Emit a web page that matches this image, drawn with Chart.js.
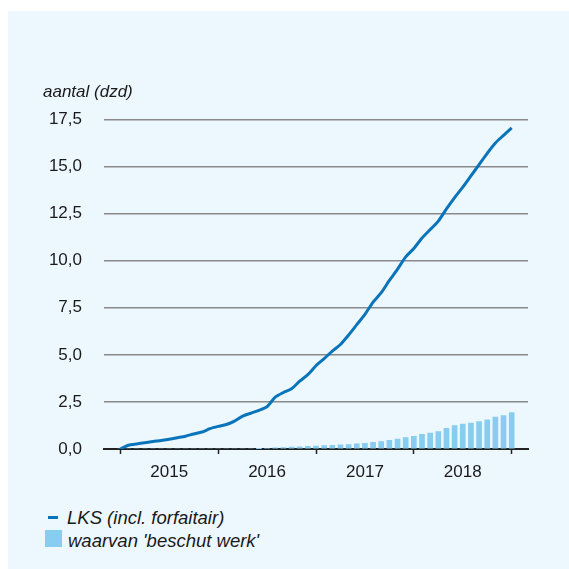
<!DOCTYPE html>
<html>
<head>
<meta charset="utf-8">
<script src="https://cdn.jsdelivr.net/npm/chart.js@4"></script>
<style>
  html, body { margin: 0; padding: 0; background: #ffffff; }
  #panel { position: absolute; left: 8px; top: 11px; width: 561px; height: 558px; background: #EDF7FE; }
  #chart { position: absolute; left: 0; top: 0; }
  .legend { position: absolute; font-family: "Liberation Sans", Arial, sans-serif; font-style: italic;
            font-size: 18.5px; line-height: 20px; color: #1a1a1a; white-space: nowrap; }
  .swatch { position: absolute; }
</style>
</head>
<body>
<div id="panel"></div>
<canvas id="chart" width="569" height="489"></canvas>
<div class="swatch" id="swLine" style="left:48px;top:516px;width:10px;height:3px;"></div>
<div class="legend" id="lgLine" style="left:67px;top:508px;"></div>
<div class="swatch" id="swBar" style="left:45px;top:530px;width:17px;height:17px;"></div>
<div class="legend" id="lgBar" style="left:68px;top:531px;"></div>
<script>
// Monthly cumulative counts (x 1000), end of Dec 2014 through end of Dec 2018
const yearLabels = ['2015', '2016', '2017', '2018'];

const lksTotal = [
  0.00, 0.20, 0.27, 0.33, 0.40, 0.45, 0.52, 0.60, 0.68, 0.80, 0.90, 1.08,
  1.20, 1.30, 1.48, 1.75, 1.90, 2.05, 2.25, 2.75, 3.00, 3.20, 3.60, 3.95,
  4.42, 4.80, 5.20, 5.55, 6.05, 6.60, 7.15, 7.80, 8.30, 8.95, 9.55, 10.20,
  10.65, 11.20, 11.65, 12.10, 12.75, 13.35, 13.90, 14.50, 15.10, 15.70, 16.25, 16.65,
  17.05
];

const beschutWerk = [
  0, 0, 0, 0, 0, 0, 0, 0, 0, 0, 0, 0,
  0, 0, 0, 0, 0, 0.02, 0.04, 0.06, 0.08, 0.10, 0.12, 0.14,
  0.16, 0.18, 0.20, 0.22, 0.24, 0.27, 0.30, 0.35, 0.40, 0.46, 0.53, 0.60,
  0.67, 0.78, 0.84, 0.93, 1.10, 1.25, 1.32, 1.38, 1.45, 1.55, 1.70, 1.78,
  1.93
];

const seriesNames = ['LKS (incl. forfaitair)', "waarvan 'beschut werk'"];
const lineColor = '#0A74BA';
const barColor = '#86CDF0';
const textColor = '#1a1a1a';
const fontFamily = '"Liberation Sans", Arial, sans-serif';

document.getElementById('swLine').style.background = lineColor;
document.getElementById('swBar').style.background = barColor;
document.getElementById('lgLine').textContent = seriesNames[0];
document.getElementById('lgBar').textContent = seriesNames[1];

const toPoints = arr => arr.map((v, i) => ({ x: i, y: v }));

new Chart(document.getElementById('chart'), {
  type: 'bar',
  data: {
    datasets: [
      {
        type: 'line',
        label: seriesNames[0],
        data: toPoints(lksTotal),
        borderColor: lineColor,
        borderWidth: 3,
        pointRadius: 0,
        tension: 0.25,
        order: 0
      },
      {
        type: 'bar',
        label: seriesNames[1],
        data: toPoints(beschutWerk),
        backgroundColor: barColor,
        borderWidth: 0,
        barThickness: 5,
        order: 1
      }
    ]
  },
  options: {
    responsive: false,
    animation: false,
    devicePixelRatio: 1,
    layout: { padding: { left: 43, right: 41, top: 0, bottom: 0 } },
    plugins: {
      legend: { display: false },
      tooltip: { enabled: false },
      title: {
        display: true,
        text: 'aantal (dzd)',
        align: 'start',
        color: textColor,
        font: { family: fontFamily, size: 17, style: 'italic', weight: 'normal', lineHeight: 1.2 },
        padding: { top: 82, bottom: 17 }
      }
    },
    scales: {
      x: {
        type: 'linear',
        offset: false,
        min: -2,
        max: 50,
        afterBuildTicks: scale => {
          scale.ticks = [0, 6, 12, 18, 24, 30, 36, 42, 48].map(v => ({ value: v }));
        },
        afterFit: scale => { scale.height = 40; },
        ticks: {
          autoSkip: false,
          maxRotation: 0,
          padding: 8,
          color: textColor,
          font: { family: fontFamily, size: 17 },
          callback: v => (v % 12 === 6 ? yearLabels[(v - 6) / 12] : '')
        },
        grid: {
          offset: false,
          drawOnChartArea: false,
          drawTicks: true,
          tickLength: 5,
          tickWidth: 1.5,
          tickColor: ctx => (ctx.tick && ctx.tick.value % 12 === 0 ? '#222222' : 'rgba(0,0,0,0)')
        },
        border: { display: true, color: '#222222', width: 2 }
      },
      y: {
        min: 0,
        max: 17.5,
        afterFit: scale => { scale.width = 61; },
        ticks: {
          stepSize: 2.5,
          padding: 22,
          color: textColor,
          font: { family: fontFamily, size: 17 },
          callback: v => v.toFixed(1).replace('.', ',')
        },
        grid: { color: '#8a8a8a', lineWidth: 1.5, drawTicks: false },
        border: { display: false }
      }
    }
  }
});
</script>
</body>
</html>
